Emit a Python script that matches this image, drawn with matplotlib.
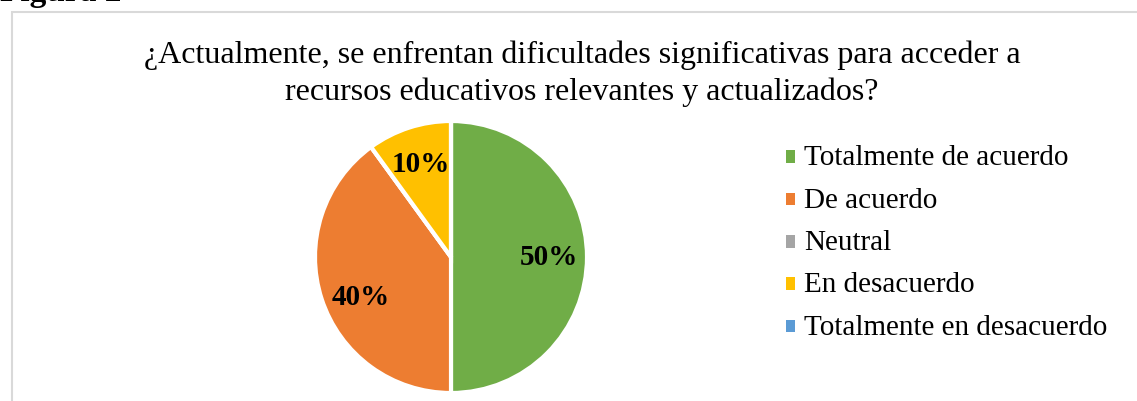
import matplotlib.pyplot as plt
from matplotlib.patches import Rectangle, Patch

plt.rcParams['font.family'] = ['Liberation Serif', 'DejaVu Serif']

categorias = ['Totalmente de acuerdo', 'De acuerdo', 'Neutral', 'En desacuerdo',
              'Totalmente en desacuerdo']
valores = [50, 40, 0, 10, 0]
colores = ['#70AD47', '#ED7D31', '#A5A5A5', '#FFC000', '#5B9BD5']
titulo = ('¿Actualmente, se enfrentan dificultades significativas para acceder a\n'
          'recursos educativos relevantes y actualizados?')

fig = plt.figure(figsize=(11.37, 4.02), dpi=100)

# marco gris del grafico
fig.patches.append(Rectangle((12 / 1137, -0.1), 1.2, 1.1 - 13 / 402,
                             transform=fig.transFigure, fill=False,
                             edgecolor='#D9D9D9', linewidth=1.5))
fig.text(0.0, 1.0 + 0.058, 'Figura 2', fontsize=24, fontweight='bold',
         ha='left', va='top')

fig.text(582 / 1137, 1 - 74 / 402, titulo, fontsize=23, ha='center', va='center',
         linespacing=1.35)

ax = fig.add_axes([(451 - 136) / 1137, (402 - 258 - 136) / 402, 272 / 1137, 272 / 402])
wedges, textos, pcts = ax.pie(
    valores, colors=colores, startangle=90, counterclock=False,
    autopct=lambda p: f'{p:.0f}%' if p > 0 else '', pctdistance=0.72,
    wedgeprops=dict(edgecolor='white', linewidth=3),
    textprops=dict(fontsize=21, fontweight='bold', color='black'))
ax.set_xlim(-1, 1)
ax.set_ylim(-1, 1)
ax.set_aspect('equal')

# la etiqueta del 40% queda algo mas abajo en el original
x40, y40 = pcts[1].get_position()
pcts[1].set_position((x40 + 0.02, y40 - 0.07))

handles = [Patch(facecolor=c, edgecolor='none') for c in colores]
leg = fig.legend(handles, categorias, loc='center left',
                 bbox_to_anchor=(760 / 1137, 1 - 243 / 402), frameon=False,
                 fontsize=21, handlelength=0.3, handleheight=0.3, handletextpad=0.3,
                 labelspacing=0.56)
for h in leg.get_patches():
    h.set_y(h.get_y() - 2)

fig.savefig('out.png', dpi=100)
